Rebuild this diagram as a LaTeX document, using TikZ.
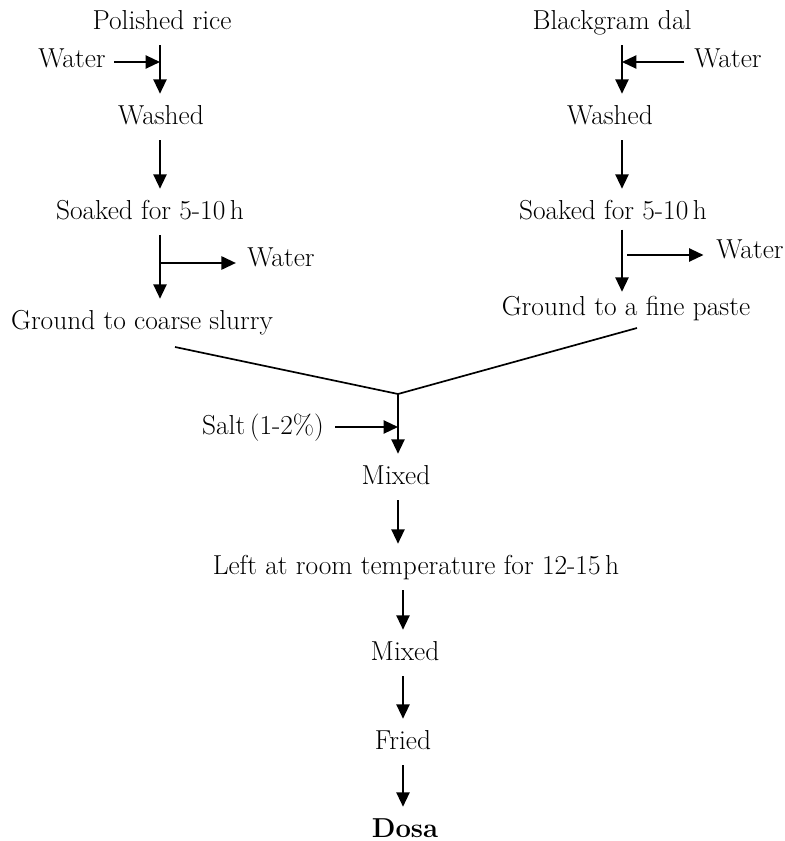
\documentclass[tikz,border=0pt]{standalone}
\usepackage{tikz}
\usetikzlibrary{arrows.meta,calc}

\begin{document}
\begin{tikzpicture}[
    x=0.025cm, y=-0.025cm,
    stage/.style={inner sep=0.2em, minimum height=1.15cm, text height=1.05em, text depth=0em, font=\fontsize{19.5}{23}\selectfont},
    arrow/.style={-{Triangle[length=3.6mm,width=3.3mm]}, line width=1.3pt},
    joint/.style={line width=1.2pt},
]
\useasboundingbox (0,0) rectangle (784,841);

% columns
\coordinate (colL) at (160,0);
\coordinate (colR) at (622,0);
\coordinate (colM) at (398,0);
\coordinate (colB) at (403,0);

% rice side
\node[stage] (rice) at (162,22) {Polished rice};
\node[stage] (waterA) at (72,60) {Water};
\node[stage] (washL) at (161,117) {Washed};
\node[stage] (soakL) at (150,212) {Soaked for 5-10\,h};
\node[stage] (waterB) at (281,259) {Water};
\node[stage] (coarse) at (142,322) {Ground to coarse slurry};

% dal side
\node[stage] (dal) at (612,22) {Blackgram dal};
\node[stage] (waterC) at (728,60) {Water};
\node[stage] (washR) at (610,117) {Washed};
\node[stage] (soakR) at (613,212) {Soaked for 5-10\,h};
\node[stage] (waterD) at (750,251) {Water};
\node[stage] (fine) at (626,308) {Ground to a fine paste};

% batter
\node[stage] (salt) at (263,427) {Salt\,(1-2\%)};
\node[stage] (mixA) at (396,477) {Mixed};
\node[stage] (rest) at (416,567) {Left at room temperature for 12-15\,h};
\node[stage] (mixB) at (405,653) {Mixed};
\node[stage] (fried) at (403,742) {Fried};
\node[stage] (dosa) at (405,830) {\textbf{Dosa}};

\coordinate (jA) at (160,62);
\coordinate (jB) at (160,263);
\coordinate (jC) at (622,62);
\coordinate (jD) at (627,255);
\coordinate (mergeL) at (175,347);
\coordinate (apex) at (398,394);
\coordinate (mergeR) at (637,328);
\coordinate (jS) at (398,427);

\draw[arrow] (rice.south -| colL) -- (washL.north -| colL);
\draw[arrow] (washL.south -| colL) -- (soakL.north -| colL);
\draw[arrow] (soakL.south -| colL) -- (coarse.north -| colL);
\draw[arrow, shorten <=4pt] (waterA.east |- jA) -- (jA);
\draw[arrow, shorten >=6pt] (jB) -- (jB -| waterB.west);

\draw[arrow] (dal.south -| colR) -- (washR.north -| colR);
\draw[arrow] (washR.south -| colR) -- (soakR.north -| colR);
\draw[arrow, shorten <=-4pt, shorten >=-5pt] (soakR.south -| colR) -- (fine.north -| colR);
\draw[arrow, shorten <=5pt] (waterC.west |- jC) -- (jC);
\draw[arrow, shorten >=7pt] (jD) -- (jD -| waterD.west);

\draw[joint] (mergeL) -- (apex) -- (mergeR);
\draw[arrow] (apex) -- (mixA.north -| colM);
\draw[arrow, shorten <=6pt] (salt.east |- jS) -- (jS);
\draw[arrow] (mixA.south -| colM) -- (rest.north -| colM);
\draw[arrow] (rest.south -| colB) -- (mixB.north -| colB);
\draw[arrow] (mixB.south -| colB) -- (fried.north -| colB);
\draw[arrow] (fried.south -| colB) -- (dosa.north -| colB);

\end{tikzpicture}
\end{document}
